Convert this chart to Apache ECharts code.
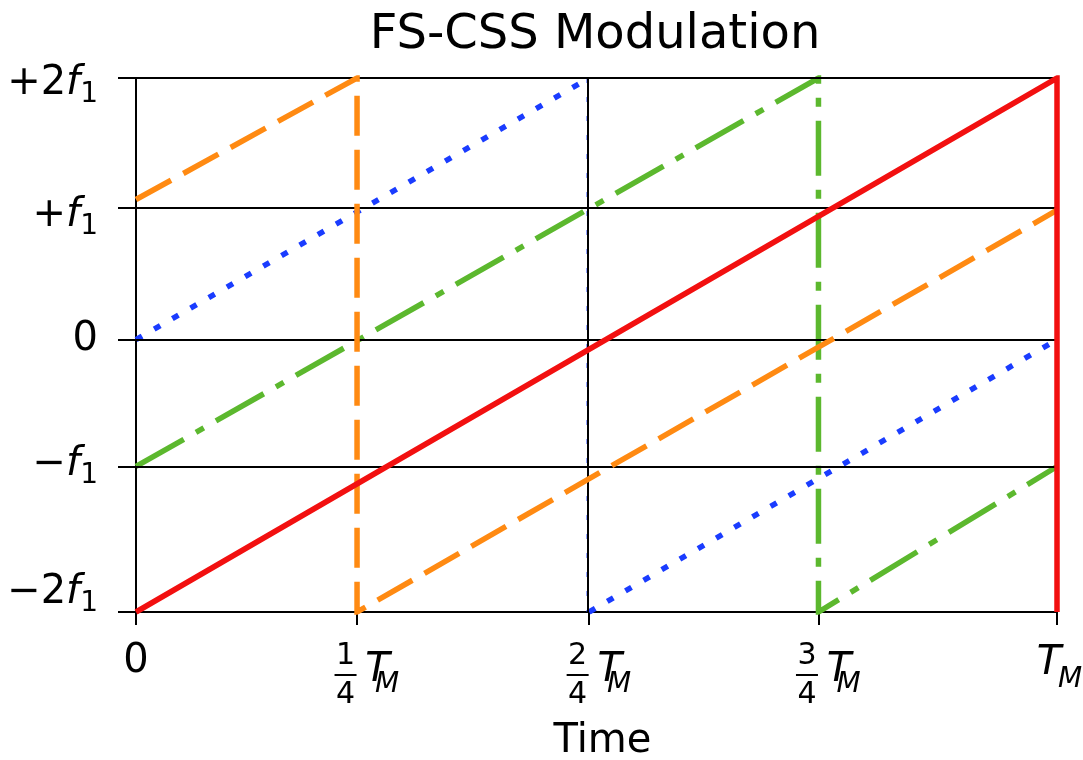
<!DOCTYPE html>
<html><head><meta charset="utf-8">
<script src="https://cdn.jsdelivr.net/npm/echarts@6/dist/echarts.min.js"></script>
<style>html,body{margin:0;padding:0;background:#fff}#c{width:1083px;height:760px}</style>
</head><body><div id="c"></div>
<script>
// ---- data (x in units of T_M, y in units of f1) ----
const xTickValues = [0, 0.24, 0.492, 0.741, 1];
const xTickLabels = ['0', '1/4 T_M', '2/4 T_M', '3/4 T_M', 'T_M'];
const yTickValues = [2, 1.03, 0.04, -0.91, -2];
const yTickLabels = ['+2f_1', '+f_1', '0', '\u2212f_1', '\u22122f_1'];
const ruleX = [0.492, 1];
const ruleY = [2, 1.03, 0.04, -0.91];
const redX = [0, 1, 1];
const redY = [-2, 2, -2];
const orangeX = [0, 0.24, 0.24, 1];
const orangeY = [1.09, 2, -2, 1.01];
const blueX1 = [0, 0.492];
const blueY1 = [0.04, 2];
const blueVX = [0.49, 0.49];
const blueVY = [2, -2];
const blueX2 = [0.492, 1];
const blueY2 = [-2, 0.04];
const greenX = [0, 0.741, 0.741, 1];
const greenY = [-0.91, 2, -2, -0.91];

// ---- layout / style ----
const FONT = 'DejaVu Sans';
const yLabelShift = [6, 8, 0, -2, -19];
const zip = (xs, ys) => xs.map((x, i) => [x, ys[i]]);
const idxOf = (arr, v) => arr.findIndex(t => Math.abs(t - v) < 1e-6);

function xLabel(v) {
  const s = xTickLabels[idxOf(xTickValues, v)];
  if (s === undefined) return '';
  if (s === 'T_M') return '{sp12| }{T|T}{Mb|M}';
  if (s.indexOf('/') < 0) return '{zero|' + s + '}';
  const parts = s.split(' ')[0].split('/');
  return '{lead| }{num|' + parts[0] + '}{p42| }\n' +
         '{lead| }{bar| }{T2|T}\n' +
         '{lead| }{den|' + parts[1] + '}{p19| }{M|M}';
}
function yLabel(v) {
  const i = idxOf(yTickValues, v);
  const s = yTickLabels[i];
  if (s === undefined) return '';
  let body;
  if (s.indexOf('f_') >= 0) {
    const pre = s.split('f_')[0];
    const sub = s.split('f_')[1];
    body = '{n|' + pre + '}{f|f}{s|' + sub + '}';
  } else {
    body = '{n|' + s + '}';
  }
  const d = yLabelShift[i];
  if (d > 0) return '{g' + (2 * d) + '| }\n' + body;
  if (d < 0) return body + '\n{g' + (-2 * d) + '| }';
  return body;
}
const sp = (w) => ({ width: w, fontSize: 1, lineHeight: 1, height: 1 });
const gapRich = {};
yLabelShift.forEach(d => { const h = Math.abs(2 * d); if (h) gapRich['g' + h] = { fontSize: 1, lineHeight: h, height: 1 }; });

const black = '#000';
function lineSeries(name, data, color, type, width, z) {
  return {
    name, type: 'line', data, showSymbol: false, symbol: 'none', animation: false, silent: true, z,
    lineStyle: { color, width, type, cap: 'butt', join: 'miter' }
  };
}

const chart = echarts.init(document.getElementById('c'), null, { renderer: 'canvas' });
chart.setOption({
  backgroundColor: '#fff',
  animation: false,
  title: {
    text: 'FS-CSS Modulation', left: 590, top: 7, textAlign: 'center',
    textStyle: { fontFamily: FONT, fontSize: 48, fontWeight: 'normal', color: black }
  },
  grid: { left: 136, right: 26, top: 78, bottom: 148, containLabel: false, outerBoundsMode: 'none' },
  xAxis: {
    type: 'value', min: 0, max: 1,
    name: 'Time', nameLocation: 'middle', nameGap: 110,
    nameTextStyle: { fontFamily: FONT, fontSize: 40, color: black, padding: [0, 0, 0, 12] },
    axisLine: { show: true, onZero: false, lineStyle: { color: black, width: 2 } },
    axisTick: { show: true, length: 13, customValues: xTickValues, lineStyle: { color: black, width: 2 } },
    splitLine: { show: false },
    axisLabel: {
      customValues: xTickValues, margin: 30, formatter: xLabel, color: black, fontFamily: FONT,
      rich: {
        zero: { fontFamily: FONT, fontSize: 40, lineHeight: 40, color: black },
        lead: sp(19), p42: sp(42), p19: sp(19), sp12: sp(12),
        num: { fontFamily: FONT, fontSize: 30, lineHeight: 28, width: 22, align: 'center', color: black },
        den: { fontFamily: FONT, fontSize: 30, lineHeight: 30, width: 22, align: 'center', color: black },
        bar: { width: 22, height: 2, lineHeight: 10, fontSize: 1, backgroundColor: black },
        T2: { fontFamily: FONT, fontStyle: 'italic', fontSize: 40, lineHeight: 10, height: 2, verticalAlign: 'top', width: 42, align: 'left', color: black },
        M: { fontFamily: FONT, fontStyle: 'italic', fontSize: 28, lineHeight: 12, height: 10, verticalAlign: 'top', width: 23, align: 'left', color: black },
        T: { fontFamily: FONT, fontStyle: 'italic', fontSize: 40, lineHeight: 44, width: 14, align: 'left', color: black },
        Mb: { fontFamily: FONT, fontStyle: 'italic', fontSize: 28, lineHeight: 18, height: 12, verticalAlign: 'bottom', width: 28, align: 'left', color: black }
      }
    }
  },
  yAxis: {
    type: 'value', min: -2, max: 2,
    axisLine: { show: true, onZero: false, lineStyle: { color: black, width: 2 } },
    axisTick: { show: true, length: 18, customValues: yTickValues, lineStyle: { color: black, width: 2 } },
    splitLine: { show: false },
    axisLabel: {
      customValues: yTickValues, margin: 38, formatter: yLabel, color: black, fontFamily: FONT,
      rich: Object.assign({
        n: { fontFamily: FONT, fontSize: 40, lineHeight: 30, color: black },
        f: { fontFamily: FONT, fontStyle: 'italic', fontSize: 40, lineHeight: 30, color: black },
        s: { fontFamily: FONT, fontSize: 28, lineHeight: 12, height: 8, verticalAlign: 'bottom', color: black }
      }, gapRich)
    }
  },
  series: [
    {
      name: 'rules', type: 'line', data: [], z: 1, silent: true, animation: false,
      markLine: {
        silent: true, animation: false, symbol: 'none', label: { show: false },
        lineStyle: { color: black, width: 2, type: 'solid' },
        data: ruleY.map(v => ({ yAxis: v })).concat(ruleX.map(v => ({ xAxis: v })))
      }
    },
    lineSeries('blue1', zip(blueX1, blueY1), '#1a3cff', [7, 14], 5.5, 3),
    lineSeries('blueV', zip(blueVX, blueVY), '#1a3cff', [5, 14], 1.5, 3),
    lineSeries('blue2', zip(blueX2, blueY2), '#1a3cff', [7, 14], 5.5, 3),
    lineSeries('green', zip(greenX, greenY), '#5cb82e', [55, 14, 9, 14], 5.5, 4),
    lineSeries('orange', zip(orangeX, orangeY), '#ff8a12', [40, 14], 5.5, 5),
    lineSeries('red', zip(redX, redY), '#f21010', 'solid', 5.5, 6)
  ]
});
</script></body></html>
